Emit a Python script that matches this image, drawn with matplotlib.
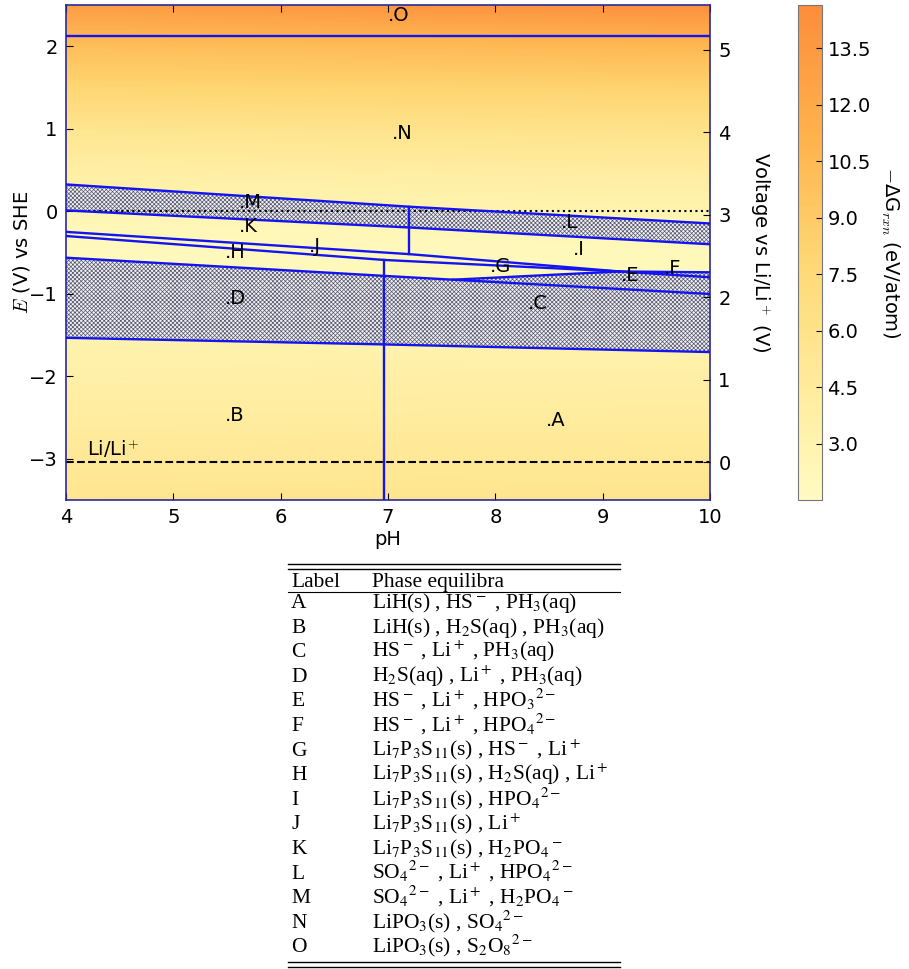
import numpy as np
import matplotlib
matplotlib.use("Agg")
import matplotlib.pyplot as plt
from matplotlib.colors import ListedColormap

plt.rcParams["mathtext.fontset"] = "cm"
plt.rcParams["font.family"] = "DejaVu Sans"
plt.rcParams["hatch.linewidth"] = 0.5

# -------------------------------
# background: -dG_rxn (eV/atom)
# -------------------------------
ph_grid = [4.0, 10.0]
e_grid = [-3.5, -3.0, -2.5, -2.0, -1.5, -1.0, -0.5, 0.0, 0.5, 1.0, 1.5, 2.0, 2.5]
dg_ph4 = [5.6, 4.9, 4.2, 3.6, 3.0, 2.4, 1.9, 2.6, 3.8, 5.6, 7.8, 10.0, 13.2]
dg_ph10 = [5.8, 5.1, 4.4, 3.8, 3.1, 2.2, 2.1, 3.0, 4.3, 6.1, 8.3, 10.6, 14.4]

# -------------------------------
# phase boundaries (pH, E vs SHE)
# -------------------------------
e_top = 2.13                                   # O | N
b1_ph = [4.0, 7.2, 10.0]; b1_e = [0.325, 0.055, -0.148]    # N | M,L
b2_ph = [4.0, 7.2, 10.0]; b2_e = [0.01, -0.197, -0.40]     # M,L | K,I
b4a_ph = [4.0, 7.2, 9.16]; b4a_e = [-0.25, -0.52, -0.73]   # K,I | J
b4b_ph = [4.0, 6.96, 9.16]; b4b_e = [-0.30, -0.59, -0.73]  # J | H,G
b5_ph = [4.0, 6.96, 10.0]; b5_e = [-0.563, -0.783, -1.003] # H,G,E | D,C
bl_ph = [4.0, 6.96, 10.0]; bl_e = [-1.534, -1.614, -1.707] # D,C | B,A
ge_ph = [7.6, 9.16]; ge_e = [-0.83, -0.73]                 # G | E
if_ph = [9.16, 10.0]; if_e = [-0.73, -0.74]                # I | F
fe_ph = [9.16, 10.0]; fe_e = [-0.73, -0.80]                # F | E
v1_ph = 7.2; v1_e = [0.055, -0.52]
v2_ph = 6.96; v2_e = [-0.59, -3.5]
e_li = -3.04

region_names = ["O", "N", "M", "K", "H", "J", "D", "B", "G", "L", "I", "E", "F", "C", "A"]
region_ph = [7.00, 7.04, 5.61, 5.61, 5.48, 6.26, 5.48, 5.48, 7.95, 8.61, 8.72, 9.17, 9.57, 8.30, 8.47]
region_e = [2.31, 0.88, 0.04, -0.25, -0.57, -0.49, -1.13, -2.54, -0.74, -0.20, -0.53, -0.85, -0.76, -1.19, -2.60]

table_labels = list("ABCDEFGHIJKLMNO")
table_phases = [
    "LiH(s) , HS$^-$ , PH$_3$(aq)",
    "LiH(s) , H$_2$S(aq) , PH$_3$(aq)",
    "HS$^-$ , Li$^+$ , PH$_3$(aq)",
    "H$_2$S(aq) , Li$^+$ , PH$_3$(aq)",
    "HS$^-$ , Li$^+$ , HPO$_3$$^{2-}$",
    "HS$^-$ , Li$^+$ , HPO$_4$$^{2-}$",
    "Li$_7$P$_3$S$_{11}$(s) , HS$^-$ , Li$^+$",
    "Li$_7$P$_3$S$_{11}$(s) , H$_2$S(aq) , Li$^+$",
    "Li$_7$P$_3$S$_{11}$(s) , HPO$_4$$^{2-}$",
    "Li$_7$P$_3$S$_{11}$(s) , Li$^+$",
    "Li$_7$P$_3$S$_{11}$(s) , H$_2$PO$_4$$^-$",
    "SO$_4$$^{2-}$ , Li$^+$ , HPO$_4$$^{2-}$",
    "SO$_4$$^{2-}$ , Li$^+$ , H$_2$PO$_4$$^-$",
    "LiPO$_3$(s) , SO$_4$$^{2-}$",
    "LiPO$_3$(s) , S$_2$O$_8$$^{2-}$",
]

# -------------------------------
# figure
# -------------------------------
W, H = 909, 969
fig = plt.figure(figsize=(W / 100, H / 100), dpi=100)
ax = fig.add_axes([66 / W, 1 - 500 / H, 644 / W, 495 / H])
cax = fig.add_axes([798 / W, 1 - 500 / H, 24 / W, 495 / H])

cmap = ListedColormap(plt.cm.YlOrRd(np.linspace(0.03, 0.5, 256)))
dg = np.column_stack([dg_ph4, dg_ph10])
mesh = ax.pcolormesh(ph_grid, e_grid, dg, shading="gouraud", cmap=cmap,
                     vmin=1.5, vmax=14.65, zorder=0)

# hatched regions
hatch_kw = dict(facecolor="#f2f2f4", edgecolor="#55556e", hatch="xxxxxxxx", lw=0, zorder=1)
ax.fill_between(b1_ph, b1_e, b2_e, **hatch_kw)
ax.fill_between(b5_ph, b5_e, bl_e, **hatch_kw)
ax.fill(ge_ph + if_ph[1:] + [b5_ph[-1]], ge_e + if_e[1:] + [b5_e[-1]], **hatch_kw)

# boundaries
blue = "#1414f0"
lkw = dict(color=blue, lw=1.7, zorder=3)
ax.plot([4, 10], [e_top, e_top], **lkw)
for xs, ys in [(b1_ph, b1_e), (b2_ph, b2_e), (b4a_ph, b4a_e), (b4b_ph, b4b_e),
               (b5_ph, b5_e), (bl_ph, bl_e), (ge_ph, ge_e), (if_ph, if_e), (fe_ph, fe_e)]:
    ax.plot(xs, ys, **lkw)
ax.plot([v1_ph, v1_ph], v1_e, **lkw)
ax.plot([v2_ph, v2_ph], v2_e, **lkw)

ax.axhline(0, color="k", ls=":", lw=1.5, zorder=2)
ax.axhline(e_li, color="k", ls="--", lw=1.5, zorder=2)
ax.text(4.2, e_li + 0.02, "Li/Li$^{+}$", fontsize=14, va="bottom")

for name, x, y in zip(region_names, region_ph, region_e):
    ax.text(x, y, "." + name, fontsize=14, ha="left", va="baseline", zorder=4)

ax.set_xlim(4, 10)
ax.set_ylim(-3.5, 2.5)
ax.set_xticks(range(4, 11))
ax.set_yticks(range(-3, 3))
ax.tick_params(direction="in", top=True, labelsize=14, length=5, width=0.8, pad=6)
ax.set_xlabel("pH", fontsize=14, labelpad=2)
ax.set_ylabel("$E$ (V) vs SHE", fontsize=14, labelpad=-2)
for sp in ax.spines.values():
    sp.set_color("#2a2a9a")
    sp.set_linewidth(1.2)

ax2 = ax.twinx()
ax2.set_ylim(-3.5 - e_li, 2.5 - e_li)
ax2.set_yticks(range(0, 6))
ax2.tick_params(direction="in", labelsize=14, length=5, width=0.8, pad=6)
ax2.set_ylabel("Voltage vs Li/Li$^+$ (V)", fontsize=14, rotation=270, labelpad=30)
for sp in ax2.spines.values():
    sp.set_visible(False)

cb = fig.colorbar(mesh, cax=cax, ticks=[3.0, 4.5, 6.0, 7.5, 9.0, 10.5, 12.0, 13.5],
                  format="%.1f")
cb.outline.set_edgecolor("#777777")
cb.ax.tick_params(direction="in", labelsize=14, length=4, width=0.8, pad=4)
cb.set_label("$-$ΔG$_{rxn}$ (eV/atom)", fontsize=14, rotation=270, labelpad=22)

# -------------------------------
# table
# -------------------------------
tab = fig.add_axes([0, 0, 1, 1])
tab.set_xlim(0, W)
tab.set_ylim(H, 0)
tab.axis("off")
x0, x1 = 288, 620
col1, col2 = 291, 372
tkw = dict(fontsize=15.5, family="Liberation Serif", math_fontfamily="stix", va="baseline")
for yy in (564, 569, 962, 967):
    tab.plot([x0, x1], [yy, yy], color="k", lw=1.0)
tab.plot([x0, x1], [592, 592], color="k", lw=0.8)
tab.text(col1, 587, "Label", **tkw)
tab.text(col2, 587, "Phase equilibra", **tkw)
row0, step = 608, 24.6
for i, (lab, ph) in enumerate(zip(table_labels, table_phases)):
    tab.text(col1, row0 + i * step, lab, **tkw)
    tab.text(col2, row0 + i * step, ph, **tkw)

fig.savefig("out.png", dpi=100)
